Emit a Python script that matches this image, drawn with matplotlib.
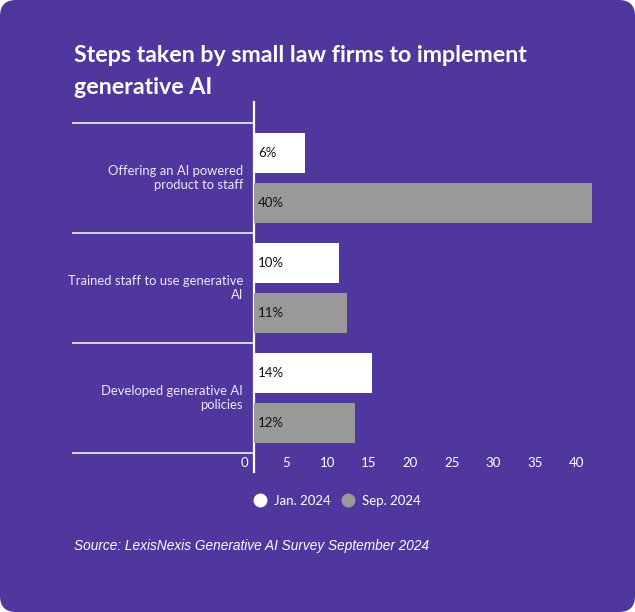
#!/usr/bin/env python3
"""Small law firms and generative AI: grouped horizontal bars."""

import matplotlib

matplotlib.use("Agg")
import matplotlib.pyplot as plt
import numpy as np
from matplotlib.lines import Line2D
from matplotlib.patches import FancyBboxPatch
from matplotlib.transforms import blended_transform_factory

categories = [
    "Offering an AI powered\nproduct to staff",
    "Trained staff to use generative\nAI",
    "Developed generative AI\npolicies",
]
series_names = ["Jan. 2024", "Sep. 2024"]
jan_values = [6, 10, 14]
sep_values = [40, 11, 12]
tick_values = [0, 5, 10, 15, 20, 25, 30, 35, 40]

PURPLE = "#50379E"
GREY = "#999999"
LABEL = "#ECE9F4"

W, H = 635, 612
fig = plt.figure(figsize=(W / 100, H / 100), dpi=100, facecolor="white")
fig.patches.append(
    FancyBboxPatch((0, 0), W, H, boxstyle="round,pad=0,rounding_size=16",
                   transform=None, facecolor=PURPLE, edgecolor="none", zorder=-10)
)


def px(x0, y0, x1, y1):
    return [x0 / W, 1 - y1 / H, (x1 - x0) / W, (y1 - y0) / H]


ax = fig.add_axes(px(254, 102, 600.5, 472))
ax.set_facecolor("none")
ax.set_xlim(0, 41)
ax.set_ylim(2.5 + 19 / 110, -0.5 - 21 / 110)

y = np.arange(len(categories))
bar_h = 0.364
offset = 0.225
ax.barh(y - offset, jan_values, height=bar_h, color="white", zorder=3)
ax.barh(y + offset, sep_values, height=bar_h, color=GREY, zorder=3)

for yy, v in zip(y - offset, jan_values):
    ax.text(0.45, yy, f"{v}%", va="center", ha="left", fontsize=9.5,
            family="Lato", color="#111111", zorder=4)
for yy, v in zip(y + offset, sep_values):
    ax.text(0.45, yy, f"{v}%", va="center", ha="left", fontsize=9.5,
            family="Lato", color="#111111", zorder=4)

# category labels and separators left of the axis
sep_tr = blended_transform_factory(fig.transFigure, ax.transData)
for yy, name in zip(y, categories):
    ax.text(-1.3, yy, name, ha="right", va="center", fontsize=9.4,
            family="Lato", color=LABEL, linespacing=1.25)
for b in np.arange(len(categories) + 1) - 0.5:
    ax.plot([72 / W, 254 / W], [b, b], color="white", lw=1.1,
            transform=sep_tr, clip_on=False, solid_capstyle="butt")

for side in ["top", "right", "bottom"]:
    ax.spines[side].set_visible(False)
ax.spines["left"].set_color("white")
ax.spines["left"].set_linewidth(1.6)
ax.set_xticks([])
ax.set_yticks([])

# value scale as drawn in the source (labels sit slightly off the bar scale)
ax2 = fig.add_axes(px(236, 102, 600.5, 472))
ax2.set_facecolor("none")
ax2.set_xlim(-(244.5 - 236) / 8.3, (600.5 - 244.5) / 8.3)
ax2.set_xticks(tick_values)
ax2.set_xticklabels([str(t) for t in tick_values], family="Lato",
                    fontsize=9.5, color="white")
ax2.set_yticks([])
ax2.tick_params(axis="x", length=0, pad=-10.5)
for s in ax2.spines.values():
    s.set_visible(False)

title = fig.text(74 / W, 1 - 45 / H,
                 "Steps taken by small law firms to implement\ngenerative AI",
                 ha="left", va="top", fontsize=16.7, fontweight="bold",
                 family="Lato", color="white", linespacing=1.63)

handles = [
    Line2D([], [], marker="o", ls="none", markersize=10, markerfacecolor=c,
           markeredgecolor="none")
    for c in ["white", GREY]
]
leg = fig.legend(handles, series_names, loc="center", ncol=2, frameon=False,
                 bbox_to_anchor=(337 / W, 1 - 501 / H), handletextpad=0.55,
                 columnspacing=0.8, handlelength=1.0,
                 prop={"family": "Lato", "size": 9.5})
for t in leg.get_texts():
    t.set_color("white")

fig.text(74 / W, 1 - 546 / H, "Source: LexisNexis Generative AI Survey September 2024",
         ha="left", va="center", fontsize=9.85, style="italic",
         family="Liberation Sans", color="white")

fig.savefig("out.png", dpi=100, facecolor="white")
